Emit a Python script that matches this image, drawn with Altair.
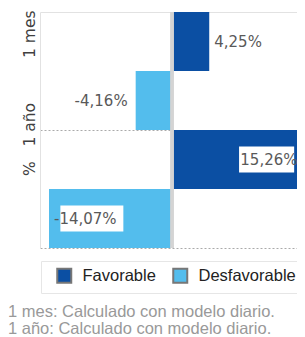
import altair as alt
import pandas as pd

periodos = ["1 mes", "1 año"]
series = ["Favorable", "Desfavorable"]
favorable = [4.25, 15.26]
desfavorable = [-4.16, -14.07]
colores = ["#0B4FA3", "#53BDED"]
notas = ["1 mes: Calculado con modelo diario.", "1 año: Calculado con modelo diario."]

rows = []
for i, p in enumerate(periodos):
    for s, vals in zip(series, [favorable, desfavorable]):
        v = vals[i]
        rows.append({"periodo": p, "serie": s, "valor": v,
                     "etiqueta": f"{v:.2f}".replace(".", ",") + "%"})
df = pd.DataFrame(rows)

y_enc = alt.Y("periodo:N", sort=periodos,
              scale=alt.Scale(domain=periodos, paddingInner=0, paddingOuter=0),
              axis=alt.Axis(title=None, ticks=False, tickSize=0, labelAngle=-90,
                            labelAlign="left", labelBaseline="bottom", labelPadding=3,
                            labelOffset=-13, bandPosition=1,
                            labelExpr="datum.value == '1 año' ? '%\u00a0\u00a0\u00a01 año' : datum.value",
                            labelFont="DejaVu Sans", labelFontSize=15.5, labelColor="#404040",
                            grid=True, gridDash=[2, 2], gridColor="#aaaaaa", gridWidth=1,
                            domain=True, domainColor="#e2e2e2", domainWidth=1))
yoff = alt.YOffset("serie:N", sort=series,
                   scale=alt.Scale(domain=series, paddingInner=0, paddingOuter=0))
x_scale = alt.Scale(domain=[-15.1, 15.2], nice=False, zero=False, range=[0, 265])
x_enc = alt.X("valor:Q", scale=x_scale,
              axis=alt.Axis(orient="top", labels=False, ticks=False, grid=False, title=None,
                            domain=True, domainColor="#e2e2e2", domainWidth=1))

base = alt.Chart(df)

bars = base.mark_bar().encode(
    x=x_enc, x2=alt.datum(0), y=y_enc, yOffset=yoff,
    color=alt.Color("serie:N", sort=series,
                    scale=alt.Scale(domain=series, range=colores),
                    legend=alt.Legend(title=" ", titleOrient="left", titlePadding=9,
                                      orient="none", legendX=1, legendY=249,
                                      direction="horizontal", symbolType="square",
                                      symbolSize=196, symbolStrokeColor="#777777",
                                      symbolStrokeWidth=2, symbolOpacity=1,
                                      labelFont="Liberation Sans", labelFontSize=16.5,
                                      labelColor="#222222", labelOffset=10,
                                      columnPadding=13, padding=6,
                                      strokeColor="#e6e6e6")),
)

zero = base.mark_rule(color="#d4d4d4", strokeWidth=3).encode(x=alt.datum(0))

boxes = base.transform_filter("abs(datum.valor) >= 10").transform_calculate(
    bx="datum.valor > 0 ? datum.valor - 7.6 : datum.valor + 1.3",
    bx2="datum.valor > 0 ? datum.valor - 1.3 : datum.valor + 8.5",
).mark_bar(color="white", size=26).encode(
    x=alt.X("bx:Q", scale=x_scale), x2="bx2:Q", y=y_enc, yOffset=yoff)

txt_style = dict(font="DejaVu Sans", fontSize=15, color="#595959", baseline="middle")
text_left = base.transform_filter(
    "(datum.valor > 0 && abs(datum.valor) < 10) || (datum.valor < 0 && abs(datum.valor) >= 10)"
).mark_text(align="left", dx=5, **txt_style).encode(
    x=alt.X("valor:Q", scale=x_scale), y=y_enc, yOffset=yoff, text="etiqueta:N")
text_right = base.transform_filter(
    "!((datum.valor > 0 && abs(datum.valor) < 10) || (datum.valor < 0 && abs(datum.valor) >= 10))"
).mark_text(align="right", dx=-8, **txt_style).encode(
    x=alt.X("valor:Q", scale=x_scale), y=y_enc, yOffset=yoff, text="etiqueta:N")

chart = alt.layer(bars, zero, boxes, text_left, text_right).properties(
    width=257, height=236,
    autosize=alt.AutoSizeParams(type="none"),
    padding={"left": 32, "top": 4, "right": 0, "bottom": 95},
    title=alt.TitleParams(text=notas, orient="bottom", anchor="start", frame="group",
                          dx=-32, offset=10, font="Liberation Sans", fontSize=16.5,
                          fontWeight="normal", color="#999999", lineHeight=17),
).configure_view(stroke=None)

chart.save("out.html", embed_options={"renderer": "svg", "actions": False})
